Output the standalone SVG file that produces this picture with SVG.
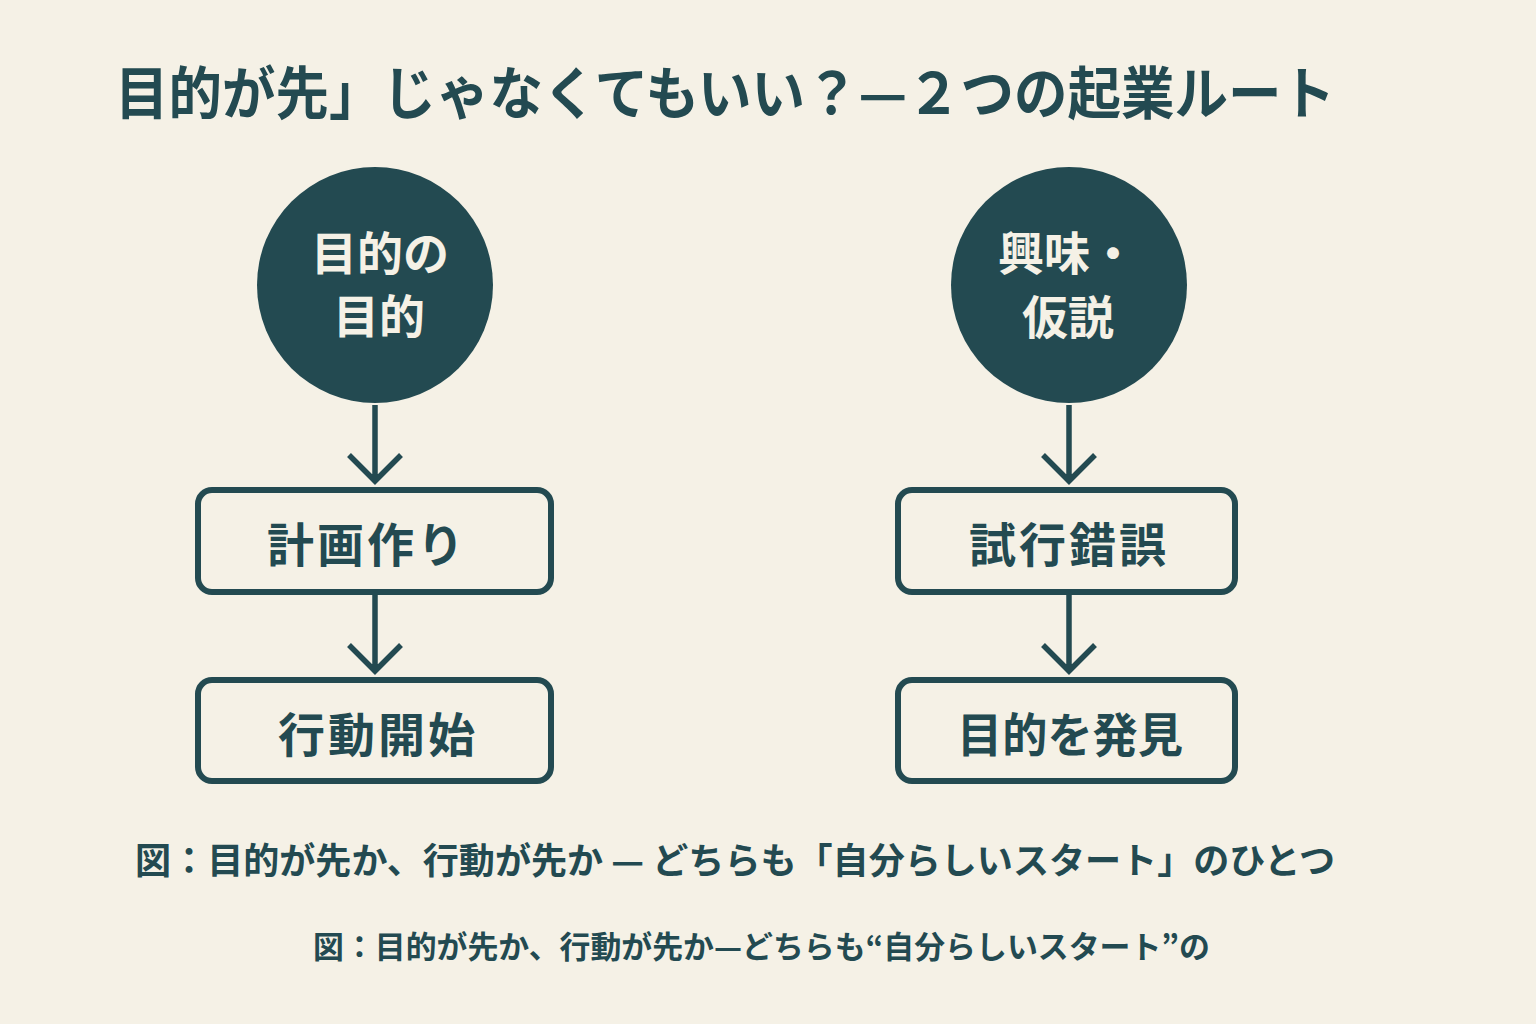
<svg xmlns="http://www.w3.org/2000/svg" width="1536" height="1024" viewBox="0 0 1536 1024">
<style>
.t{font-family:"Noto Sans CJK JP","Noto Sans CJK SC",sans-serif;fill:#234a51;font-weight:700}
.w{font-family:"Noto Sans CJK JP","Noto Sans CJK SC",sans-serif;fill:#f5f1e6;font-weight:700;font-size:46px;text-anchor:middle}
.c{fill:#234a51}
.b{fill:#f5f1e6;stroke:#234a51;stroke-width:6}
.bl{font-size:47px;text-anchor:middle;letter-spacing:3px}
.e{fill:none;stroke:#234a51;stroke-width:5.5;stroke-linecap:butt}
</style>
<rect width="1536" height="1024" fill="#f5f1e6"/>
<text class="t" x="115" y="114" font-size="57" textLength="1220" lengthAdjust="spacingAndGlyphs">目的が先」じゃなくてもいい？—２つの起業ルート</text>
<g id="connectors">
<path class="e" d="M375 405V480M349 455L375 481L401 455"/>
<path class="e" d="M375 595V670M349 645L375 671L401 645"/>
<path class="e" d="M1069 405V480M1043 455L1069 481L1095 455"/>
<path class="e" d="M1069 595V670M1043 645L1069 671L1095 645"/>
</g>
<g id="node-purpose">
<circle class="c" cx="375" cy="285" r="118"/>
<text class="w" x="380" y="270">目的の</text>
<text class="w" x="379" y="333">目的</text>
</g>
<g id="node-plan">
<rect class="b" x="198" y="490" width="353" height="102" rx="14"/>
<text class="t bl" x="367" y="562">計画作り</text>
</g>
<g id="node-action">
<rect class="b" x="198" y="680" width="353" height="101" rx="14"/>
<text class="t bl" x="378" y="752">行動開始</text>
</g>
<g id="node-interest">
<circle class="c" cx="1069" cy="285" r="118"/>
<text class="w" x="1067" y="270">興味・</text>
<text class="w" x="1068" y="334">仮説</text>
</g>
<g id="node-trial">
<rect class="b" x="898" y="490" width="337" height="102" rx="14"/>
<text class="t bl" x="1069" y="562">試行錯誤</text>
</g>
<g id="node-discover">
<rect class="b" x="898" y="680" width="337" height="101" rx="14"/>
<text class="t bl" x="1070" y="752" textLength="226" lengthAdjust="spacingAndGlyphs" style="letter-spacing:0">目的を発見</text>
</g>
<text class="t" x="135" y="874" font-size="36" textLength="1200" lengthAdjust="spacingAndGlyphs">図：目的が先か、行動が先か — どちらも「自分らしいスタート」のひとつ</text>
<text class="t" x="313" y="958" font-size="31" textLength="897" lengthAdjust="spacingAndGlyphs">図：目的が先か、行動が先か—どちらも“自分らしいスタート”の</text>
</svg>
